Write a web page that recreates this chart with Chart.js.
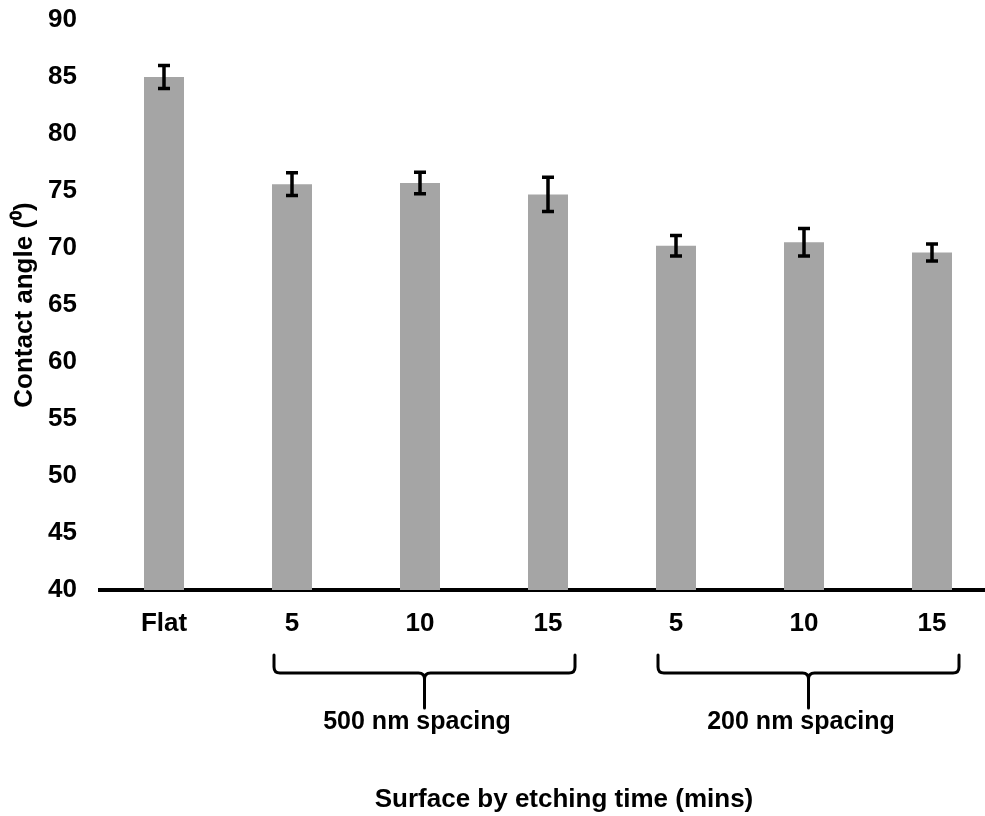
<!DOCTYPE html>
<html>
<head>
<meta charset="utf-8">
<script src="https://cdn.jsdelivr.net/npm/chart.js@4/dist/chart.umd.min.js"></script>
<style>
    html, body { margin: 0; padding: 0; background: #fff; }
    #wrap { width: 985px; height: 816px; overflow: hidden; }
</style>
</head>
<body>
<div id="wrap"><canvas id="myChart" width="996" height="816"></canvas></div>
<script>
// values
const labels = ['Flat', '5', '10', '15', '5', '10', '15'];
const angles = [85.0, 75.6, 75.7, 74.7, 70.2, 70.5, 69.6];
const errors = [1.0, 1.0, 0.95, 1.5, 0.9, 1.2, 0.75];

// brackets under the categories
const groupNames = ['500 nm spacing', '200 nm spacing'];
const groupFrom = [1, 4];
const groupTo = [3, 6];

const yMin = 40;
const yMax = 90;
const yStep = 5;
const xTitle = 'Surface by etching time (mins)';
const yTitle = 'Contact angle (\u2070)';

const FONT = "'Liberation Sans', Arial, sans-serif";

window.addEventListener('DOMContentLoaded', () => {

    // error bars + brackets + bottom labels
    const extras = {
        id: 'extras',
        afterDatasetsDraw(chart) {
            const ctx = chart.ctx;
            const x = chart.scales.x;
            const y = chart.scales.y;
            ctx.save();
            ctx.strokeStyle = '#000';
            ctx.lineWidth = 3.5;
            angles.forEach((v, i) => {
                const px = x.getPixelForValue(i);
                const top = y.getPixelForValue(v + errors[i]);
                const bot = y.getPixelForValue(v - errors[i]);
                ctx.beginPath();
                ctx.moveTo(px, top);
                ctx.lineTo(px, bot);
                ctx.moveTo(px - 6, top);
                ctx.lineTo(px + 6, top);
                ctx.moveTo(px - 6, bot);
                ctx.lineTo(px + 6, bot);
                ctx.stroke();
            });
            ctx.restore();
        },
        afterDraw(chart) {
            const ctx = chart.ctx;
            const x = chart.scales.x;
            ctx.save();
            ctx.strokeStyle = '#000';
            ctx.lineWidth = 3;
            ctx.lineCap = 'round';
            const yTop = 655, yLine = 673, yStem = 708, r = 6;
            ctx.fillStyle = '#000';
            ctx.font = 'bold 25px ' + FONT;
            ctx.textAlign = 'center';
            ctx.textBaseline = 'middle';
            groupNames.forEach((name, g) => {
                const l = x.getPixelForValue(groupFrom[g]) - 18;
                const rr = x.getPixelForValue(groupTo[g]) + 27;
                const m = (l + rr) / 2;
                ctx.beginPath();
                ctx.moveTo(l, yTop);
                ctx.lineTo(l, yLine - r);
                ctx.quadraticCurveTo(l, yLine, l + r, yLine);
                ctx.lineTo(m - r, yLine);
                ctx.quadraticCurveTo(m, yLine, m, yLine + r);
                ctx.lineTo(m, yStem);
                ctx.moveTo(m, yLine + r);
                ctx.quadraticCurveTo(m, yLine, m + r, yLine);
                ctx.lineTo(rr - r, yLine);
                ctx.quadraticCurveTo(rr, yLine, rr, yLine - r);
                ctx.lineTo(rr, yTop);
                ctx.stroke();
                const mid = (x.getPixelForValue(groupFrom[g]) + x.getPixelForValue(groupTo[g])) / 2;
                ctx.fillText(name, mid - 3, 722);
            });
            ctx.font = 'bold 26px ' + FONT;
            ctx.fillText(xTitle, 564, 800);
            ctx.restore();
        }
    };

    const data = {
        labels: labels,
        datasets: [{
            data: angles,
            backgroundColor: '#a5a5a5',
            borderWidth: 0,
            barPercentage: 0.3125,
            categoryPercentage: 1
        }]
    };

    const tickFont = { family: FONT, size: 26, weight: 'bold' };

    const config = {
        type: 'bar',
        data: data,
        options: {
            responsive: false,
            animation: false,
            devicePixelRatio: 1,
            layout: { padding: { top: 20, right: 0, bottom: 0, left: 0 } },
            plugins: {
                legend: { display: false },
                tooltip: { enabled: false }
            },
            scales: {
                x: {
                    grid: { display: false, drawTicks: false },
                    border: { display: true, color: '#000', width: 4 },
                    ticks: { color: '#000', font: tickFont, padding: 18, maxRotation: 0, autoSkip: false },
                    afterFit: s => { s.height = 226; }
                },
                y: {
                    min: yMin,
                    max: yMax,
                    ticks: { stepSize: yStep, color: '#000', font: tickFont, padding: 23 },
                    grid: { display: false, drawTicks: false },
                    border: { display: false },
                    title: {
                        display: true,
                        text: yTitle,
                        color: '#000',
                        font: tickFont,
                        padding: { top: 9, bottom: 0 }
                    },
                    afterFit: s => {
                        s.width = 100;
                        s.paddingTop = 0;
                        s.paddingBottom = 0;
                    }
                }
            }
        },
        plugins: [extras]
    };

    const myChart = new Chart(document.getElementById('myChart'), config);
});
</script>
</body>
</html>
